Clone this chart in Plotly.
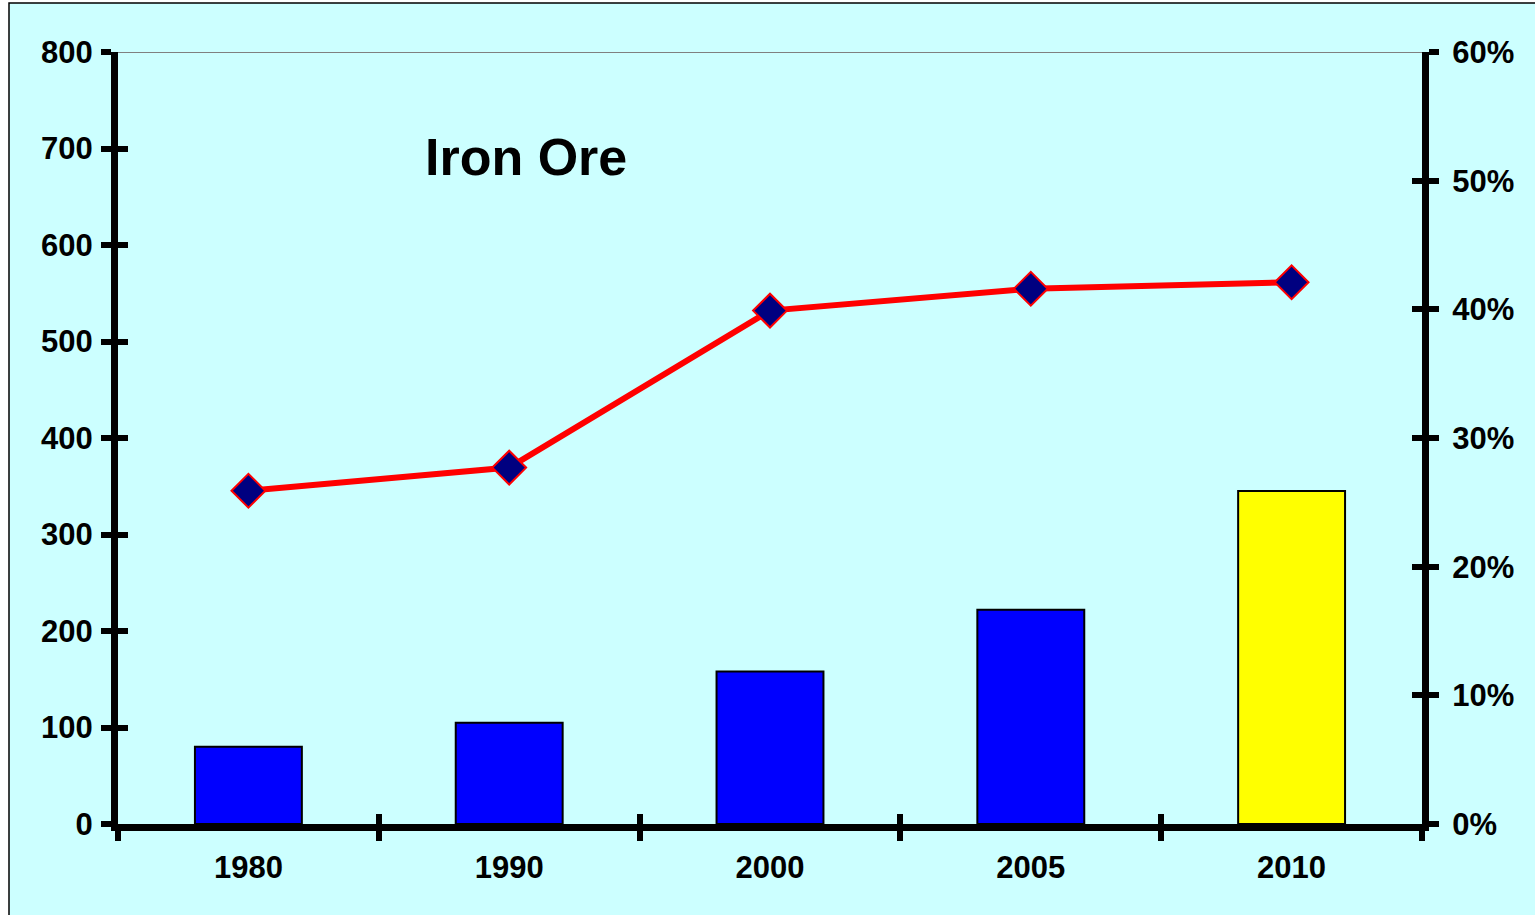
import plotly.graph_objects as go

years = ["1980", "1990", "2000", "2005", "2010"]
volumes = [80, 105, 158, 222, 345]
shares = [0.259, 0.277, 0.399, 0.416, 0.421]
bar_colors = ["#0000FF", "#0000FF", "#0000FF", "#0000FF", "#FFFF00"]
left_ticks = [0, 100, 200, 300, 400, 500, 600, 700, 800]
right_ticks = [0, 0.1, 0.2, 0.3, 0.4, 0.5, 0.6]

W, H = 1535, 915
ml, mr, mt, mb = 118, 113, 52, 91
pw, ph = W - ml - mr, H - mt - mb

def px_x(p):
    return (p - ml) / pw

def px_y(p):
    return (H - mb - p) / ph

FAM = "Arial, Liberation Sans, sans-serif"
font = dict(family=FAM, size=31, color="black", weight="bold")

fig = go.Figure()
fig.add_trace(go.Bar(
    x=years, y=volumes, marker=dict(color=bar_colors, line=dict(color="black", width=2)),
    width=0.41, xaxis="x", yaxis="y", showlegend=False))
fig.add_trace(go.Scatter(
    x=years, y=shares, mode="lines+markers", xaxis="x", yaxis="y2",
    line=dict(color="#FF0000", width=6),
    marker=dict(symbol="diamond", size=26, color="#000080", line=dict(color="#FF0000", width=2)),
    showlegend=False))
# invisible traces to activate the overlay axes that carry the inner half of the ticks
fig.add_trace(go.Scatter(x=years, y=[None]*5, xaxis="x2", yaxis="y3", showlegend=False, hoverinfo="skip"))
fig.add_trace(go.Scatter(x=years, y=[None]*5, xaxis="x2", yaxis="y4", showlegend=False, hoverinfo="skip"))

axis_common = dict(showline=True, linecolor="black", linewidth=7, showgrid=False, zeroline=False,
                   tickcolor="black", tickwidth=6, ticklen=10, tickfont=font)
inner_common = dict(showticklabels=False, showline=False, showgrid=False, zeroline=False,
                    tickcolor="black", tickwidth=6, ticklen=10, ticks="inside")

fig.update_layout(
    width=W, height=H,
    margin=dict(l=ml, r=mr, t=mt, b=mb, autoexpand=False),
    paper_bgcolor="white", plot_bgcolor="rgba(0,0,0,0)",
    xaxis=dict(type="category", ticks="outside", tickson="boundaries", **axis_common,
               ticklabelstandoff=10),
    xaxis2=dict(type="category", overlaying="x", anchor="y", side="bottom",
                tickson="boundaries", categoryorder="array", categoryarray=years,
                range=[-0.5, 4.5], **inner_common),
    yaxis=dict(range=[0, 800], tickvals=left_ticks, ticks="outside", **axis_common,
               ticklabelstandoff=2),
    yaxis3=dict(range=[0, 800], tickvals=left_ticks, overlaying="y", side="left", anchor="x",
                **inner_common),
    yaxis2=dict(range=[0, 0.6], tickvals=right_ticks, tickformat=".0%", overlaying="y",
                side="right", anchor="x", ticks="outside", **axis_common,
                ticklabelstandoff=7),
    yaxis4=dict(range=[0, 0.6], tickvals=right_ticks, overlaying="y", side="right", anchor="x",
                **inner_common),
    shapes=[
        dict(type="rect", xref="paper", yref="paper", x0=px_x(9), x1=px_x(1560),
             y0=px_y(940), y1=px_y(3), fillcolor="#CCFFFF", line=dict(color="black", width=1.5),
             layer="below"),
        dict(type="line", xref="paper", yref="y", x0=0, x1=1, y0=800, y1=800,
             line=dict(color="#808080", width=2), layer="below"),
    ],
    annotations=[
        dict(text="<b>Iron Ore</b>", xref="paper", yref="paper", x=px_x(526), y=px_y(157),
             showarrow=False, xanchor="center", yanchor="middle",
             font=dict(family=FAM, size=52, color="black")),
    ],
)

fig.write_html("out.html", config={"displayModeBar": False},
               post_script="document.body.style.margin='0';document.body.style.overflow='hidden';")
